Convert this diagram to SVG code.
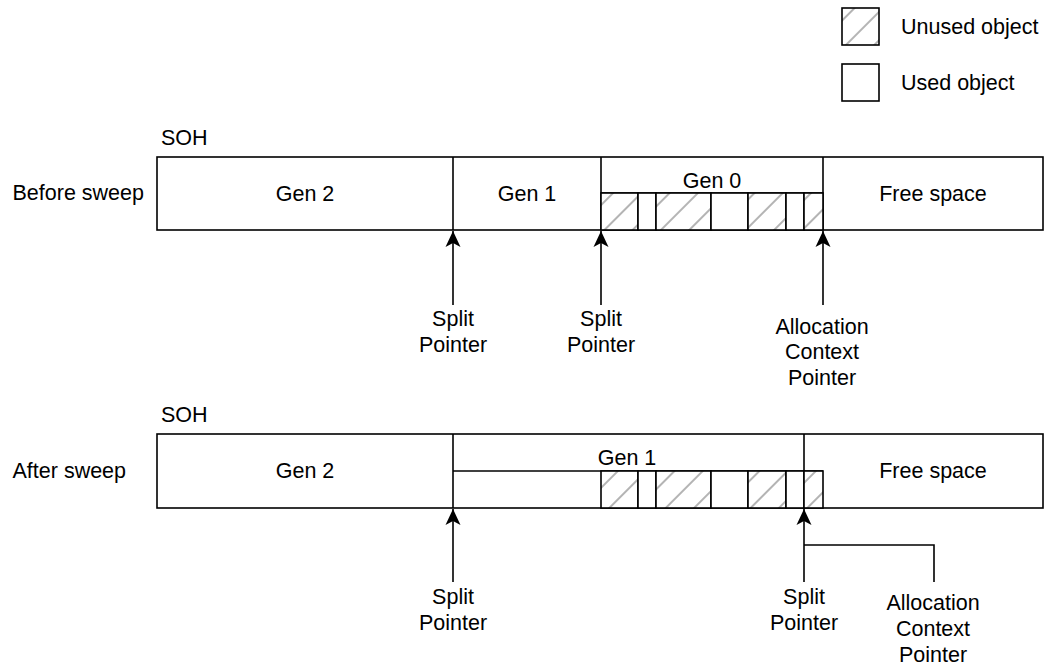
<svg xmlns="http://www.w3.org/2000/svg" width="1048" height="666" viewBox="0 0 1048 666">
<style>
  text { font-family: "Liberation Sans", Arial, sans-serif; font-size: 21.5px; fill: #000; }
  .c { text-anchor: middle; }
  .s { fill: none; stroke: #000; stroke-width: 1.6; }
  .box { fill: #fff; stroke: #000; stroke-width: 1.6; }
  .hb { fill: url(#hatch); stroke: #000; stroke-width: 1.6; }
  .conn { fill: none; stroke: #000; stroke-width: 1.6; }
</style>
<defs>
  <pattern id="hatch" patternUnits="userSpaceOnUse" width="20" height="20" patternTransform="rotate(-45)">
    <rect width="20" height="20" fill="#fff"/>
    <line x1="0" y1="10" x2="20" y2="10" stroke="#b4b4b4" stroke-width="2"/>
  </pattern>
  <marker id="arr" viewBox="0 0 16 16" markerWidth="16" markerHeight="16" refX="16" refY="8" orient="auto" markerUnits="userSpaceOnUse">
    <path d="M0,0.5 L16,8 L0,15.5 L4,8 Z" fill="#000"/>
  </marker>
</defs>
<rect width="1048" height="666" fill="#fff"/>

<g id="legend">
  <rect class="hb" x="842" y="8" width="37" height="37"/>
  <text x="901" y="34">Unused object</text>
  <rect class="box" x="842" y="64" width="37" height="37"/>
  <text x="901" y="90">Used object</text>
</g>

<g id="before-sweep">
  <text x="161" y="145">SOH</text>
  <text x="12.5" y="199.5">Before sweep</text>
  <rect class="box" x="157" y="157" width="886" height="73"/>
  <g id="gen2-top"><line class="s" x1="453" y1="157" x2="453" y2="230"/><text class="c" x="305" y="201">Gen 2</text></g>
  <g id="gen1-top"><line class="s" x1="601" y1="157" x2="601" y2="230"/><text class="c" x="527" y="201">Gen 1</text></g>
  <g id="gen0-top">
    <line class="s" x1="823" y1="157" x2="823" y2="230"/>
    <line class="s" x1="601" y1="193" x2="823" y2="193"/>
    <text class="c" x="712" y="188">Gen 0</text>
    <rect class="hb" x="601" y="193" width="37" height="37"/>
    <rect class="box" x="638" y="193" width="18" height="37"/>
    <rect class="hb" x="656" y="193" width="55" height="37"/>
    <rect class="box" x="711" y="193" width="37" height="37"/>
    <rect class="hb" x="748" y="193" width="38" height="37"/>
    <rect class="box" x="786" y="193" width="18" height="37"/>
    <rect class="hb" x="804" y="193" width="19" height="37"/>
  </g>
  <g id="free-top"><text class="c" x="933" y="201">Free space</text></g>
  <g id="labels-top">
    <text class="c" x="453" y="326">Split</text>
    <text class="c" x="453" y="352">Pointer</text>
    <text class="c" x="601" y="326">Split</text>
    <text class="c" x="601" y="352">Pointer</text>
    <text class="c" x="822" y="333.5">Allocation</text>
    <text class="c" x="822" y="359">Context</text>
    <text class="c" x="822" y="384.5">Pointer</text>
  </g>
</g>

<g id="after-sweep">
  <text x="161" y="422">SOH</text>
  <text x="12.5" y="478">After sweep</text>
  <rect class="box" x="157" y="434" width="886" height="74"/>
  <g id="gen2-bottom"><line class="s" x1="453" y1="434" x2="453" y2="508"/><text class="c" x="305" y="478">Gen 2</text></g>
  <g id="gen1-bottom">
    <line class="s" x1="804" y1="434" x2="804" y2="508"/>
    <line class="s" x1="453" y1="471" x2="823" y2="471"/>
    <text class="c" x="627" y="465">Gen 1</text>
    <rect class="hb" x="601" y="471" width="37" height="37"/>
    <rect class="box" x="638" y="471" width="18" height="37"/>
    <rect class="hb" x="656" y="471" width="55" height="37"/>
    <rect class="box" x="711" y="471" width="37" height="37"/>
    <rect class="hb" x="748" y="471" width="38" height="37"/>
    <rect class="box" x="786" y="471" width="18" height="37"/>
    <rect class="hb" x="804" y="471" width="19" height="37"/>
  </g>
  <g id="free-bottom"><text class="c" x="933" y="478">Free space</text></g>
  <g id="labels-bottom">
    <text class="c" x="453" y="604">Split</text>
    <text class="c" x="453" y="630">Pointer</text>
    <text class="c" x="804" y="604">Split</text>
    <text class="c" x="804" y="630">Pointer</text>
    <text class="c" x="933" y="610">Allocation</text>
    <text class="c" x="933" y="635.5">Context</text>
    <text class="c" x="933" y="661.5">Pointer</text>
  </g>
</g>

<g id="connectors">
  <line class="conn" x1="453" y1="305" x2="453" y2="231" marker-end="url(#arr)"/>
  <line class="conn" x1="601" y1="305" x2="601" y2="231" marker-end="url(#arr)"/>
  <line class="conn" x1="823" y1="305" x2="823" y2="231" marker-end="url(#arr)"/>
  <line class="conn" x1="453" y1="582" x2="453" y2="509" marker-end="url(#arr)"/>
  <line class="conn" x1="804" y1="582" x2="804" y2="509" marker-end="url(#arr)"/>
  <polyline class="conn" points="934,582 934,545 804,545"/>
</g>
</svg>
